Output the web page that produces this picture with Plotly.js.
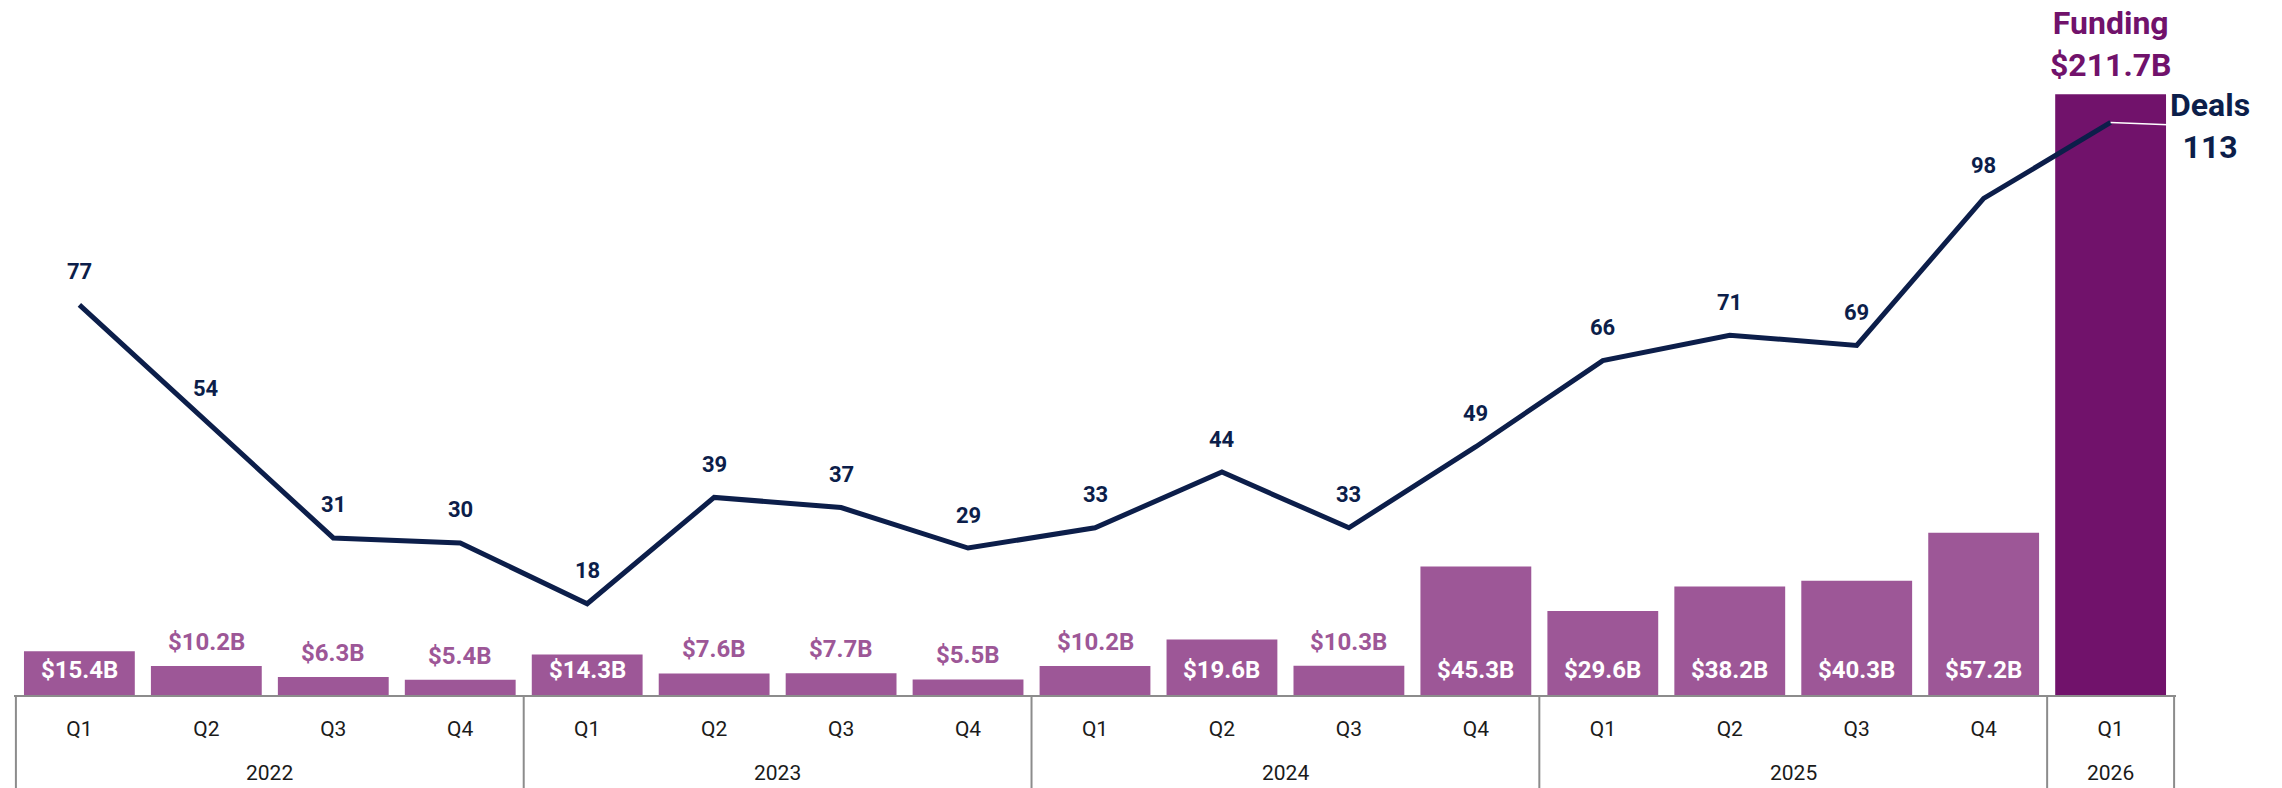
<!DOCTYPE html>
<html>
<head>
<meta charset="utf-8">
<script src="https://cdn.plot.ly/plotly-3.0.1.min.js"></script>
<style>
  html, body { margin: 0; padding: 0; background: #ffffff; }
  #chart { width: 2282px; height: 788px; }
</style>
</head>
<body>
<div id="chart"></div>
<script>
// ---- data ----
const years    = ["2022","2022","2022","2022","2023","2023","2023","2023","2024","2024","2024","2024","2025","2025","2025","2025","2026"];
const quarters = ["Q1","Q2","Q3","Q4","Q1","Q2","Q3","Q4","Q1","Q2","Q3","Q4","Q1","Q2","Q3","Q4","Q1"];
const funding  = [15.4, 10.2, 6.3, 5.4, 14.3, 7.6, 7.7, 5.5, 10.2, 19.6, 10.3, 45.3, 29.6, 38.2, 40.3, 57.2, 211.7];
const deals    = [77, 54, 31, 30, 18, 39, 37, 29, 33, 44, 33, 49, 66, 71, 69, 98, 113];

// ---- style ----
const BAR = "#9d5797";
const BAR_LAST = "#71126b";
const NAVY = "#0c1e4a";
const AXIS = "#8c8c8c";
const FONT = "Roboto, 'Open Sans', sans-serif";

const n = funding.length;
const last = n - 1;
const cats = years.map((y, i) => y + " " + quarters[i]);
const barColors = funding.map((v, i) => i === last ? BAR_LAST : BAR);

const plotTop = 60, base = 695;
const H = base - plotTop;
const pxPerB = 2.838, pxPerDeal = 5.067;

const fmt = v => "$" + v.toFixed(1) + "B";

const annotations = [];
const shapes = [];

// bar labels
funding.forEach((v, i) => {
  if (i === last) return;
  const inside = v * pxPerB > 40;
  annotations.push({
    xref: "x", yref: "y", x: i, y: inside ? 0 : v,
    yshift: inside ? 25 : 24,
    text: "<b>" + fmt(v) + "</b>", showarrow: false,
    font: { family: FONT, size: 24, color: inside ? "#ffffff" : BAR }
  });
});
// deals labels
deals.forEach((d, i) => {
  if (i === last) return;
  annotations.push({
    xref: "x", yref: "y2", x: i, y: d, yshift: 33,
    text: "<b>" + d + "</b>", showarrow: false,
    font: { family: FONT, size: 22, color: NAVY }
  });
});
// last funding callout
annotations.push({
  xref: "x", yref: "y", x: last, y: funding[last], yshift: 50,
  text: "<b>Funding<br>" + fmt(funding[last]) + "</b>", showarrow: false,
  font: { family: FONT, size: 32, color: BAR_LAST }
});
// last deals callout with white leader
annotations.push({
  xref: "x", yref: "y2", x: last, y: deals[last],
  ax: 99, ay: 4, showarrow: true, arrowhead: 0, arrowwidth: 1.5, arrowcolor: "#ffffff",
  standoff: 0, startstandoff: 0,
  text: "<b>Deals<br>" + deals[last] + "</b>",
  font: { family: FONT, size: 32, color: NAVY }
});

// year group labels and dividers
const groups = [];
years.forEach((y, i) => {
  const g = groups[groups.length - 1];
  if (g && g.year === y) g.end = i; else groups.push({ year: y, start: i, end: i });
});
groups.forEach((g, k) => {
  annotations.push({
    xref: "x", yref: "paper", x: (g.start + g.end) / 2, y: 0, yshift: -78,
    yanchor: "middle", text: g.year, showarrow: false,
    font: { family: FONT, size: 21, color: "#1a1a1a" }
  });
  const edges = k === 0 ? [g.start - 0.5, g.end + 0.5] : [g.end + 0.5];
  edges.forEach(e => shapes.push({
    type: "line", xref: "x", yref: "paper", x0: e, x1: e, y0: 0, y1: -0.2,
    line: { color: AXIS, width: 2 }, layer: "above"
  }));
});

const traces = [
  {
    type: "bar", x: cats, y: funding,
    marker: { color: barColors, line: { width: 0 } },
    hoverinfo: "skip"
  },
  {
    type: "scatter", mode: "lines", x: cats, y: deals, yaxis: "y2",
    line: { color: NAVY, width: 5 },
    hoverinfo: "skip"
  }
];

const layout = {
  width: 2282, height: 788,
  margin: { l: 14, r: 106, t: plotTop, b: 788 - base },
  paper_bgcolor: "#ffffff", plot_bgcolor: "#ffffff",
  showlegend: false,
  bargap: 0.127,
  font: { family: FONT },
  xaxis: {
    type: "category", range: [-0.515, n - 0.485],
    tickvals: cats, ticktext: quarters,
    showline: true, linecolor: AXIS, linewidth: 2,
    showgrid: false, zeroline: false, ticks: "",
    ticklabelstandoff: 14,
    tickfont: { family: FONT, size: 21, color: "#1a1a1a" }
  },
  yaxis: {
    range: [0, H / pxPerB], visible: false, showgrid: false, zeroline: false, fixedrange: true
  },
  yaxis2: {
    range: [0, H / pxPerDeal], overlaying: "y", visible: false, showgrid: false, zeroline: false
  },
  annotations: annotations,
  shapes: shapes
};

Plotly.newPlot("chart", traces, layout, { staticPlot: true, displayModeBar: false });
</script>
</body>
</html>
